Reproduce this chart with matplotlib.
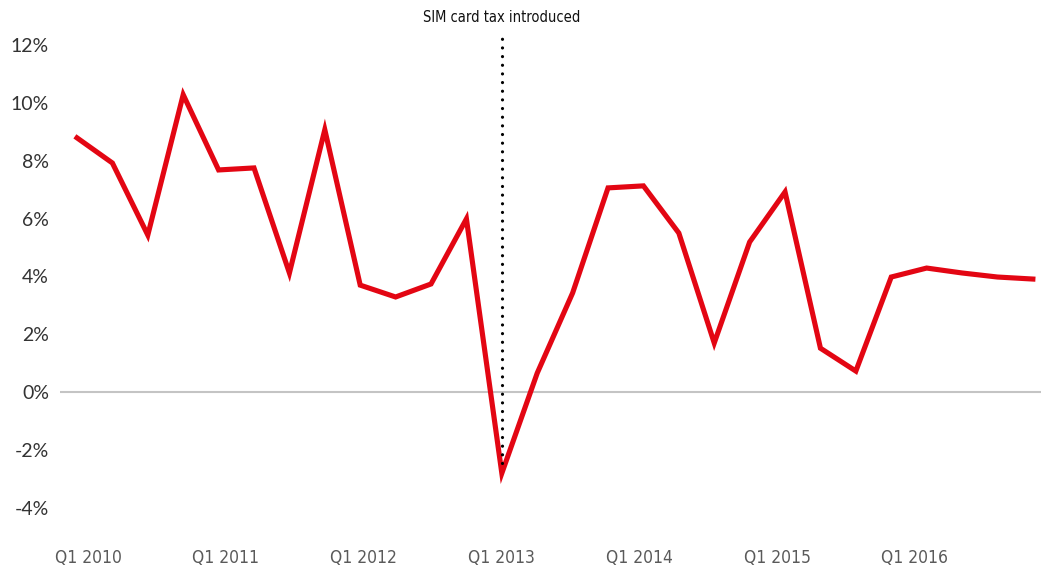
import matplotlib
matplotlib.use("Agg")
import matplotlib.pyplot as plt
from matplotlib import font_manager as fm

quarters = [f"Q{q} {y}" for y in range(2010, 2017) for q in range(1, 5)]
growth = [8.79, 7.92, 5.43, 10.28, 7.68, 7.75, 4.12, 9.07,
          3.70, 3.29, 3.74, 5.99, -2.80, 0.66, 3.43, 7.06,
          7.13, 5.50, 1.70, 5.19, 6.92, 1.52, 0.73, 3.98,
          4.29, 4.12, 3.98, 3.91]
ytick_vals = [-4, -2, 0, 2, 4, 6, 8, 10, 12]
xtick_labels = ["Q1 2010", "Q1 2011", "Q1 2012", "Q1 2013", "Q1 2014", "Q1 2015", "Q1 2016"]
event_label = "SIM card tax introduced"
event_quarter = "Q1 2013"

fonts = fm.fontManager.ttflist
cond = [f for f in fonts if f.stretch in ("condensed", "semi-condensed", "extra-condensed", "ultra-condensed")
        or (isinstance(f.stretch, int) and f.stretch < 500) or "Condensed" in f.name or "Narrow" in f.name]
narrow_prop = None
if cond:
    pick = sorted(cond, key=lambda f: (f.weight not in (400, "normal", "regular"), f.style != "normal"))[0]
    narrow_prop = fm.FontProperties(fname=pick.fname)

fig = plt.figure(figsize=(10.41, 5.71), dpi=100)
ax = fig.add_axes([60/1041, (571-534)/571, 1-60/1041, (534-16)/571])

x = list(range(len(quarters)))
ax.axhline(0, color="#c4c4c4", lw=1.5, zorder=1)
ex = quarters.index(event_quarter)
ax.plot([ex, ex], [growth[ex] + 0.35, 12.3], color="black", lw=2.3,
        linestyle=(0, (0.01, 2.7)), dash_capstyle="round", zorder=3)
ax.plot(x, growth, color="#e30613", lw=3.7, solid_joinstyle="miter", zorder=2)

ax.set_xlim(-0.48, 27.23)
ax.set_ylim(-4.9, 13.0)
ax.set_yticks(ytick_vals)
ax.set_yticklabels([f"{v}%" for v in ytick_vals], fontsize=14, color="#333333", family="Lato")
ax.yaxis.set_tick_params(length=0, pad=8)
xt = [0.31 + 3.893 * i for i in range(len(xtick_labels))]
ax.set_xticks(xt)
if narrow_prop is not None:
    ax.set_xticklabels(xtick_labels, color="#5a5a5a")
    for lab in ax.get_xticklabels():
        lab.set_fontproperties(narrow_prop)
        lab.set_fontsize(12.5)
    ev = ax.text(ex, 12.7, event_label, ha="center", va="bottom", color="#111111")
    ev.set_fontproperties(narrow_prop)
    ev.set_fontsize(10.5)
else:
    ax.set_xticklabels(xtick_labels, fontsize=11, color="#5a5a5a", family="Roboto")
    ax.text(ex, 12.7, event_label, ha="center", va="bottom", fontsize=10,
            family="Roboto", color="#111111")
ax.xaxis.set_tick_params(length=0, pad=11)
for s in ax.spines.values():
    s.set_visible(False)
ax.set_facecolor("none")
fig.savefig("out.png", dpi=100, facecolor="white")
